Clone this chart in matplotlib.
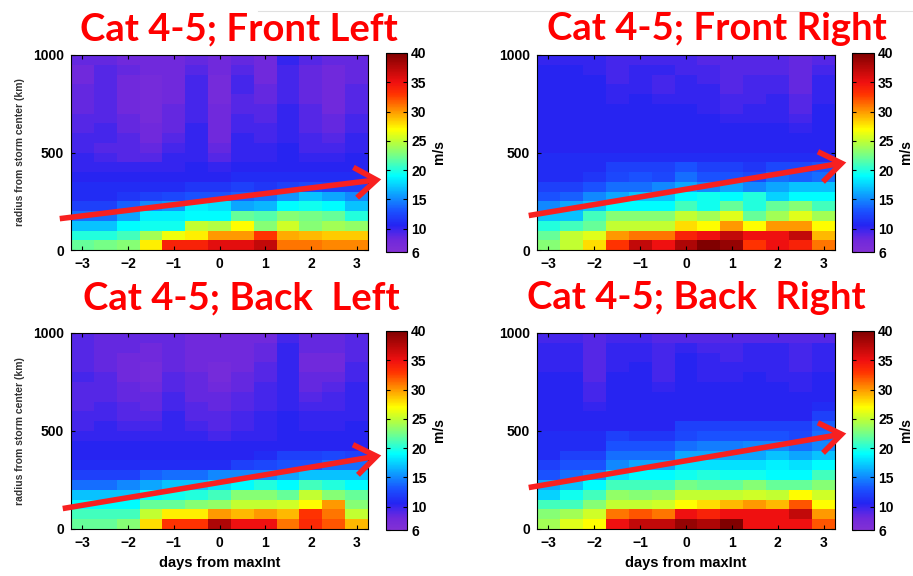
import numpy as np
import matplotlib
matplotlib.use("Agg")
import matplotlib.pyplot as plt
from matplotlib.colors import LinearSegmentedColormap
from matplotlib.patches import FancyArrowPatch
from matplotlib.lines import Line2D
from matplotlib.font_manager import FontProperties

# grid: days from max intensity (bin centres) and radius bins (km)
days = np.arange(-3, 3.5, 0.5)
radius = np.arange(25, 1000, 50)

titles = ["Cat 4-5; Front Left", "Cat 4-5; Front Right",
          "Cat 4-5; Back  Left", "Cat 4-5; Back  Right"]

# wind speed (m/s), rows listed from 975 km (top) down to 25 km (bottom)
front_left = [
    [8.5, 8.5, 8.0, 8.0, 8.0, 8.5, 8.0, 8.5, 8.0, 10.0, 9.0, 8.5, 8.5],
    [8.0, 9.0, 8.5, 8.0, 8.0, 9.0, 8.0, 9.0, 8.0, 9.5, 8.5, 8.0, 8.5],
    [8.0, 9.0, 8.0, 7.5, 8.0, 9.5, 7.5, 9.5, 8.0, 9.5, 8.5, 8.0, 8.5],
    [8.5, 9.0, 8.0, 7.5, 8.0, 9.5, 7.5, 9.5, 8.5, 9.5, 8.5, 8.0, 9.0],
    [8.5, 9.0, 8.0, 7.5, 8.0, 9.5, 7.5, 9.0, 8.5, 9.5, 8.5, 8.0, 9.0],
    [8.5, 9.0, 8.0, 7.5, 8.5, 9.5, 8.0, 9.0, 9.0, 10.0, 9.0, 8.0, 9.0],
    [9.0, 9.0, 8.5, 7.5, 8.5, 9.5, 8.0, 9.5, 9.0, 10.0, 9.0, 8.5, 9.5],
    [9.0, 9.5, 8.5, 8.0, 8.5, 10.0, 8.0, 9.5, 9.5, 10.0, 9.0, 8.5, 9.5],
    [9.5, 9.5, 9.0, 8.0, 9.0, 10.0, 8.0, 10.0, 9.5, 10.0, 9.5, 9.0, 10.0],
    [9.5, 9.0, 9.0, 8.5, 9.5, 10.0, 8.5, 10.0, 10.0, 10.5, 9.5, 9.5, 10.0],
    [10.0, 9.5, 9.0, 9.0, 10.0, 10.0, 9.0, 10.0, 10.0, 10.5, 10.0, 10.0, 10.5],
    [10.0, 10.0, 10.0, 10.0, 10.0, 10.5, 10.0, 10.5, 10.5, 10.5, 10.5, 10.5, 10.5],
    [10.5, 10.5, 10.5, 10.5, 10.5, 10.5, 10.5, 11.0, 11.0, 11.0, 11.0, 11.0, 11.0],
    [11.0, 11.0, 11.0, 11.0, 11.0, 11.5, 11.5, 12.0, 11.5, 12.0, 12.5, 12.0, 12.0],
    [11.0, 11.0, 11.5, 12.0, 12.5, 13.0, 13.0, 13.5, 14.0, 15.5, 17.0, 16.0, 15.0],
    [12.0, 12.0, 13.5, 15.0, 15.5, 18.5, 18.0, 16.0, 16.5, 19.0, 19.5, 19.0, 17.0],
    [14.0, 14.0, 16.0, 18.5, 18.5, 19.0, 19.0, 22.0, 21.5, 23.0, 22.5, 22.0, 20.0],
    [17.0, 17.0, 19.0, 19.5, 19.5, 25.0, 24.5, 27.0, 23.0, 25.5, 23.0, 24.0, 23.5],
    [20.0, 20.0, 21.0, 24.0, 26.5, 27.5, 30.0, 30.0, 33.0, 29.5, 29.0, 28.5, 28.5],
    [22.0, 22.5, 23.0, 27.5, 34.0, 34.0, 35.5, 35.5, 37.0, 31.0, 31.0, 30.5, 30.5],
]

front_right = [
    [10.0, 10.0, 10.0, 9.5, 9.5, 9.5, 9.5, 9.0, 9.0, 9.0, 9.0, 8.5, 9.0],
    [10.5, 10.5, 10.0, 9.5, 10.0, 10.0, 9.5, 9.5, 9.0, 9.0, 9.0, 8.5, 9.5],
    [10.5, 10.5, 10.5, 9.5, 10.0, 9.5, 10.0, 9.5, 9.0, 9.5, 9.5, 8.5, 10.0],
    [10.5, 10.5, 10.5, 10.0, 10.0, 9.5, 10.0, 10.0, 9.0, 9.5, 9.5, 8.5, 10.0],
    [10.5, 10.5, 10.5, 10.0, 10.5, 10.0, 10.0, 10.0, 9.5, 9.5, 10.0, 9.0, 10.0],
    [10.5, 10.5, 10.5, 10.5, 10.5, 10.5, 10.5, 10.0, 9.5, 10.0, 10.0, 9.0, 10.5],
    [10.5, 10.5, 10.5, 10.5, 10.5, 10.5, 10.5, 10.5, 10.0, 10.0, 10.0, 9.5, 10.5],
    [10.5, 10.5, 10.5, 10.5, 10.5, 10.5, 10.5, 10.5, 10.5, 10.5, 10.5, 10.0, 10.5],
    [10.5, 10.5, 10.5, 10.5, 10.5, 10.5, 10.5, 10.5, 10.5, 10.5, 10.5, 10.5, 10.5],
    [10.5, 10.5, 10.5, 10.5, 10.5, 10.5, 10.5, 10.5, 10.5, 10.5, 10.5, 10.5, 10.5],
    [11.0, 11.0, 11.0, 11.0, 11.0, 11.0, 11.0, 11.0, 11.0, 11.0, 11.0, 11.0, 11.0],
    [11.0, 11.0, 11.0, 12.0, 12.0, 12.0, 13.0, 12.0, 12.0, 11.5, 12.5, 12.5, 13.0],
    [11.0, 11.0, 11.5, 12.5, 13.0, 12.5, 14.0, 13.0, 13.0, 12.5, 14.0, 13.5, 14.0],
    [12.0, 12.0, 13.0, 14.0, 14.0, 15.0, 16.0, 15.0, 16.0, 15.0, 16.0, 17.0, 17.0],
    [13.0, 13.5, 15.0, 16.0, 17.0, 17.0, 19.0, 19.5, 19.0, 20.0, 17.5, 19.0, 19.0],
    [15.0, 16.0, 17.0, 19.0, 19.0, 19.0, 21.0, 19.5, 22.0, 20.0, 22.0, 23.0, 21.0],
    [17.0, 17.0, 21.0, 23.0, 23.0, 23.0, 25.0, 24.0, 26.0, 22.0, 24.0, 26.0, 24.0],
    [20.0, 21.0, 22.0, 25.0, 25.0, 25.0, 28.0, 27.0, 30.0, 27.0, 30.0, 30.0, 27.0],
    [22.0, 25.0, 26.0, 30.0, 31.0, 31.0, 34.0, 35.0, 37.0, 35.0, 35.0, 37.0, 29.0],
    [23.0, 25.0, 28.0, 33.0, 37.0, 35.0, 38.0, 40.0, 39.0, 33.0, 35.0, 34.0, 31.0],
]

back_left = [
    [9.0, 8.5, 8.5, 8.5, 8.5, 8.0, 8.0, 8.0, 8.0, 9.5, 8.5, 8.5, 9.0],
    [9.0, 8.5, 8.5, 8.0, 8.5, 8.0, 8.0, 8.0, 8.5, 10.0, 8.5, 8.5, 9.0],
    [9.0, 8.5, 8.0, 8.0, 8.5, 8.0, 8.0, 8.0, 8.5, 10.0, 8.0, 8.0, 9.0],
    [9.0, 8.5, 8.0, 7.5, 8.5, 8.0, 7.5, 8.0, 9.0, 10.0, 8.0, 8.0, 9.5],
    [9.5, 9.0, 8.0, 7.5, 9.0, 8.5, 7.5, 8.5, 9.0, 10.0, 8.5, 8.5, 9.5],
    [9.0, 9.0, 8.5, 8.0, 9.0, 8.5, 8.0, 8.5, 9.5, 10.0, 8.5, 9.0, 10.0],
    [9.0, 9.0, 8.5, 8.5, 9.5, 8.5, 8.5, 9.0, 9.5, 10.0, 9.0, 9.5, 10.0],
    [9.0, 9.5, 9.0, 8.5, 9.5, 9.0, 8.5, 9.0, 9.5, 10.0, 9.5, 9.5, 10.0],
    [9.5, 9.5, 9.0, 9.0, 10.0, 9.0, 9.0, 9.5, 10.0, 10.5, 10.0, 10.0, 10.0],
    [9.5, 10.0, 9.5, 9.5, 10.0, 9.5, 9.0, 9.5, 10.0, 10.5, 10.0, 10.0, 10.5],
    [10.0, 10.0, 10.0, 10.0, 10.0, 10.0, 9.5, 10.0, 10.0, 10.5, 10.5, 10.5, 10.5],
    [10.5, 10.5, 10.5, 10.5, 10.5, 10.5, 10.5, 10.5, 10.5, 10.5, 10.5, 10.5, 10.5],
    [10.5, 10.5, 10.5, 10.5, 10.5, 10.5, 10.5, 10.5, 11.0, 12.0, 12.0, 12.5, 12.0],
    [11.0, 11.0, 11.0, 11.0, 11.0, 11.0, 11.0, 12.0, 12.5, 13.0, 13.0, 14.0, 14.0],
    [12.0, 12.0, 12.0, 13.5, 14.0, 14.0, 15.0, 15.0, 15.0, 16.0, 17.0, 17.0, 17.0],
    [14.0, 14.0, 15.0, 16.0, 17.0, 17.0, 18.0, 19.0, 20.0, 19.0, 21.0, 20.0, 19.0],
    [17.0, 17.0, 17.0, 19.0, 19.5, 20.0, 21.0, 23.0, 23.0, 22.0, 25.0, 23.0, 22.0],
    [19.0, 19.0, 19.0, 22.0, 22.0, 23.0, 23.5, 25.0, 25.0, 25.5, 27.0, 30.0, 23.0],
    [21.0, 21.0, 21.0, 25.0, 27.5, 27.5, 30.0, 29.0, 30.0, 29.0, 33.0, 31.0, 25.0],
    [22.0, 22.0, 23.0, 28.0, 33.0, 33.0, 38.0, 35.0, 35.0, 31.0, 33.5, 32.0, 29.0],
]

back_right = [
    [9.5, 9.5, 9.0, 9.5, 9.5, 9.0, 9.0, 9.0, 9.0, 9.0, 9.0, 9.0, 9.0],
    [10.0, 10.0, 9.0, 10.0, 10.0, 9.5, 10.0, 9.5, 9.5, 10.0, 10.0, 9.5, 10.0],
    [10.0, 10.0, 9.0, 10.0, 10.0, 9.5, 10.5, 10.0, 9.5, 10.0, 10.0, 9.5, 10.0],
    [10.0, 10.0, 9.0, 10.0, 10.5, 9.5, 10.5, 10.0, 10.0, 10.0, 10.0, 9.5, 10.0],
    [10.5, 10.5, 9.0, 10.5, 10.5, 9.5, 10.5, 10.0, 10.0, 10.5, 10.0, 10.0, 10.5],
    [10.5, 10.5, 9.5, 10.5, 10.5, 10.0, 10.5, 10.5, 10.5, 10.5, 10.5, 10.0, 10.5],
    [10.5, 10.5, 9.5, 10.5, 10.5, 10.5, 10.5, 10.5, 10.5, 10.5, 10.5, 10.5, 10.5],
    [10.5, 10.5, 10.0, 10.5, 10.5, 10.5, 10.5, 10.5, 10.5, 10.5, 10.5, 10.5, 11.0],
    [10.5, 10.5, 10.5, 10.5, 10.5, 10.5, 10.5, 10.5, 10.5, 10.5, 10.5, 10.5, 12.0],
    [10.5, 10.5, 10.5, 10.5, 10.5, 10.5, 12.0, 12.0, 12.0, 12.0, 12.0, 12.0, 13.5],
    [11.0, 11.0, 11.0, 12.0, 11.5, 11.5, 12.5, 13.0, 13.0, 13.0, 13.0, 12.5, 14.0],
    [11.0, 11.0, 11.0, 13.0, 13.0, 13.0, 14.0, 14.5, 14.5, 15.0, 15.0, 14.0, 15.0],
    [11.0, 12.0, 12.0, 14.0, 14.0, 14.0, 16.0, 16.0, 16.0, 16.0, 17.0, 16.0, 17.0],
    [12.0, 13.0, 13.0, 15.0, 16.0, 16.0, 18.0, 18.0, 18.0, 18.0, 18.5, 18.0, 19.0],
    [13.0, 14.0, 15.0, 18.0, 19.0, 19.0, 19.5, 20.0, 19.5, 19.5, 19.0, 19.0, 21.0],
    [16.0, 17.0, 19.0, 21.0, 21.0, 21.0, 22.5, 22.0, 22.0, 23.0, 22.0, 22.0, 23.0],
    [17.5, 19.5, 21.0, 23.5, 23.0, 23.5, 25.0, 25.0, 25.0, 25.5, 25.0, 27.0, 25.5],
    [21.0, 21.0, 23.0, 25.0, 25.0, 25.5, 27.0, 28.0, 29.0, 30.0, 29.0, 32.0, 27.0],
    [23.0, 24.0, 25.5, 31.0, 32.0, 31.0, 35.0, 34.0, 35.0, 35.0, 35.0, 37.0, 30.0],
    [24.0, 26.0, 27.0, 35.0, 37.0, 37.0, 39.0, 38.0, 40.0, 35.0, 35.0, 35.0, 32.0],
]

panels = [front_left, front_right, back_left, back_right]

# purple -> blue -> cyan -> yellow -> red -> dark red, 6..40 m/s
vmin, vmax = 6, 40
stops = [(6, "#8230d4"), (8, "#7029dc"), (9.3, "#4a26ea"), (10.5, "#2424f2"),
         (13, "#1a52ff"), (16, "#0ca6ff"), (19, "#00ffff"), (22, "#66ff99"),
         (25, "#c0ff33"), (27, "#ffff00"), (30, "#ff9900"), (33, "#ff3300"),
         (35, "#f01010"), (40, "#800000")]
cmap = LinearSegmentedColormap.from_list(
    "wind", [((v - vmin) / (vmax - vmin), c) for v, c in stops])

W, H = 913, 576
fig = plt.figure(figsize=(W / 100, H / 100), dpi=100)


def rect(x0, y0, x1, y1):
    # pixel box (top-left origin) -> figure fraction
    return [x0 / W, 1 - y1 / H, (x1 - x0) / W, (y1 - y0) / H]


def fpt(x, y):
    return (x / W, 1 - y / H)


layout = [
    dict(ax=(71, 55, 368, 250), cb=(386, 53, 407, 252), title=(239, 40),
         arrow=((57, 219), (384, 179)), left=True, bottom=False),
    dict(ax=(537, 55, 835, 250), cb=(852, 53, 874, 252), title=(717, 40),
         arrow=((526, 216), (849, 162)), left=False, bottom=False),
    dict(ax=(71, 333, 368, 529), cb=(386, 331, 407, 530), title=(241, 309),
         arrow=((60, 509), (384, 455)), left=True, bottom=True),
    dict(ax=(537, 333, 835, 529), cb=(852, 331, 874, 530), title=(696, 309),
         arrow=((526, 488), (849, 433)), left=False, bottom=True),
]

x_edges = np.append(days - 0.25, days[-1] + 0.25)
r_edges = np.append(radius - 25, radius[-1] + 25)
bold = dict(family="Liberation Sans", weight="bold")
tick_font = FontProperties(family="Liberation Sans", weight="bold", size=10)

for data, title, lay in zip(panels, titles, layout):
    ax = fig.add_axes(rect(*lay["ax"]))
    z = np.flipud(np.array(data))
    mesh = ax.pcolormesh(x_edges, r_edges, z, cmap=cmap, vmin=vmin, vmax=vmax)
    ax.set_xlim(x_edges[0], x_edges[-1])
    ax.set_ylim(0, 1000)
    ax.set_xticks([-3, -2, -1, 0, 1, 2, 3])
    ax.set_yticks([0, 500, 1000])
    ax.tick_params(direction="in", top=True, right=True, length=3,
                   width=0.8, pad=5)
    for lbl in ax.get_xticklabels() + ax.get_yticklabels():
        lbl.set_fontproperties(tick_font)
    if lay["left"]:
        ax.set_ylabel("radius from storm center (km)", fontsize=7.5,
                      color="#333333", labelpad=6, **bold)
    if lay["bottom"]:
        ax.set_xlabel("days from maxInt", fontsize=10.5, labelpad=4, **bold)

    cax = fig.add_axes(rect(*lay["cb"]))
    cb = fig.colorbar(mesh, cax=cax, ticks=[6, 10, 15, 20, 25, 30, 35, 40])
    cb.outline.set_linewidth(0.8)
    cax.tick_params(direction="in", left=True, right=True, length=3,
                    width=0.8, pad=3)
    for lbl in cax.get_yticklabels():
        lbl.set_fontproperties(tick_font)
    cb.set_label("m/s", fontsize=10, labelpad=4, **bold)

    tx, ty = lay["title"]
    fig.text(*fpt(tx, ty), title, ha="center", va="baseline", color="#ff0000",
             fontsize=27.5, family="Lato", weight="bold")

    (x0, y0), (x1, y1) = lay["arrow"]
    fig.add_artist(FancyArrowPatch(
        fpt(x0, y0), fpt(x1, y1), transform=fig.transFigure,
        arrowstyle="->,head_length=0.7,head_width=0.5", mutation_scale=22,
        color="#f82020", linewidth=4, capstyle="butt", joinstyle="miter",
        zorder=10))

# faint slide rule at the top
fig.add_artist(Line2D([258 / W, 1], [1 - 11 / H, 1 - 11 / H],
                      transform=fig.transFigure, color="#e0e0e0", lw=0.8))

fig.savefig("out.png", dpi=100, facecolor="white")
